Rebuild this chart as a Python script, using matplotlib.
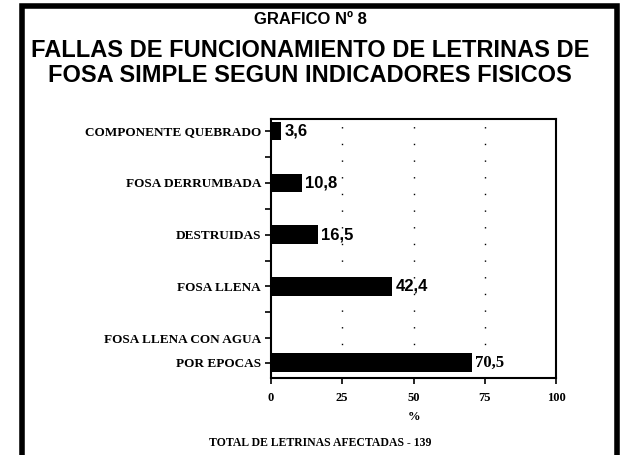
import numpy as np
import matplotlib
matplotlib.use("Agg")
import matplotlib.pyplot as plt
from matplotlib.patches import Rectangle

# datos (porcentaje de letrinas afectadas)
categorias = ["COMPONENTE QUEBRADO", "FOSA DERRUMBADA", "DESTRUIDAS",
              "FOSA LLENA", "FOSA LLENA CON AGUA\nPOR EPOCAS"]
valores = [3.6, 10.8, 16.5, 42.4, 70.5]
etiquetas = ["3,6", "10,8", "16,5", "42,4", "70,5"]
xticks = [0, 25, 50, 75, 100]
total = 139

fig = plt.figure(figsize=(6.2, 4.55), dpi=100)
ax = fig.add_axes([0.437, 0.169, 0.460, 0.569])

# posiciones: la ultima categoria tiene su etiqueta en dos lineas
y = np.arange(len(valores), dtype=float)
y[-1] = y[-2] + 1.47
ax.barh(y, valores, height=0.36, color="black")

for yy, v, t in zip(y, valores, etiquetas):
    fam = "Liberation Serif" if t == etiquetas[-1] else "Liberation Sans"
    ax.text(v + 1.2, yy, t, va="center", ha="left", fontsize=12,
            fontweight="bold", family=fam)

ax.set_xlim(0, 100)
ax.set_ylim(y[-1] + 0.3, -0.23)
ax.set_xticks(xticks)
ax.set_xticklabels([str(t) for t in xticks], family="Liberation Serif",
                   fontweight="bold", fontsize=9)
ax.set_xlabel("%", family="Liberation Serif", fontweight="bold", fontsize=9,
              labelpad=5)

# etiquetas del eje y
lab_pos = list(y[:-1]) + [y[-2] + 1.0, y[-1]]
partes = categorias[:-1] + categorias[-1].split("\n")
ax.set_yticks(lab_pos)
ax.set_yticklabels(partes, family="Liberation Serif", fontweight="bold",
                   fontsize=9.5)
ax.set_yticks(np.arange(len(valores) - 1) + 0.5, minor=True)
ax.tick_params(axis="y", which="both", length=4, width=1.2, pad=3)
ax.tick_params(axis="x", length=4, width=1.2, pad=6)

for s in ax.spines.values():
    s.set_linewidth(1.5)

# lineas punteadas de referencia
for xv in xticks[1:-1]:
    ax.axvline(xv, color="black", lw=1, linestyle=(0, (1, 11)), zorder=0)

# titulo
fig.text(0.5, 0.958, "GRAFICO Nº 8", ha="center", va="center",
         family="Liberation Sans", fontweight="bold", fontsize=12)
fig.text(0.5, 0.862, "FALLAS DE FUNCIONAMIENTO DE LETRINAS DE\nFOSA SIMPLE SEGUN INDICADORES FISICOS",
         ha="center", va="center", family="Liberation Sans", fontweight="bold",
         fontsize=17, linespacing=1.1)

fig.text(0.516, 0.027, "TOTAL DE LETRINAS AFECTADAS - %d" % total,
         ha="center", va="center", family="Liberation Serif",
         fontweight="bold", fontsize=8.5)

# marco
fig.patches.append(Rectangle((0.035, -0.05), 0.960, 1.037, transform=fig.transFigure,
                             fill=False, lw=4, edgecolor="black"))

fig.savefig("out.png", dpi=100)
